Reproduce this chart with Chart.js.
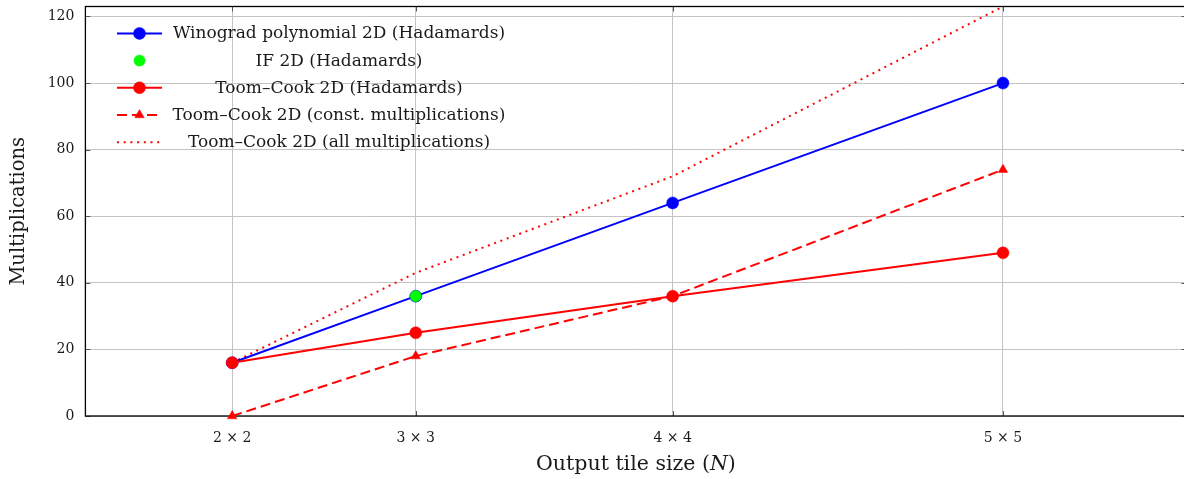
<!DOCTYPE html>
<html>
<head>
<meta charset="utf-8">
<script src="https://cdn.jsdelivr.net/npm/chart.js@4.4.0/dist/chart.umd.min.js"></script>
<style>
  html, body { margin: 0; padding: 0; background: #fff; overflow: hidden; }
  /* a little wider than the window: the right frame edge falls just outside, as in the original */
  #wrap { width: 1193px; height: 479px; position: relative; }
</style>
</head>
<body>
<div id="wrap"><canvas id="chart"></canvas></div>
<script>
'use strict';

// ===== Data =====
const tileLabels = ['2 × 2', '3 × 3', '4 × 4', '5 × 5'];
const tileArea   = [4, 9, 16, 25];   // x position = N²
const winograd   = [16, 36, 64, 100];
const ifArea     = [9];
const ifValues   = [36];
const toomHad    = [16, 25, 36, 49];
const toomConst  = [0, 18, 36, 74];
const toomAll    = [16, 43, 72, 123];
const yTicks     = [0, 20, 40, 60, 80, 100, 120];

const seriesNames = [
  'Winograd polynomial 2D (Hadamards)',
  'IF 2D (Hadamards)',
  'Toom–Cook 2D (Hadamards)',
  'Toom–Cook 2D (const. multiplications)',
  'Toom–Cook 2D (all multiplications)'
];

const FONT = "'DejaVu Serif', serif";
const ink   = '#1a1a1a';
const blue  = '#0000ff';
const red   = '#ff0000';
const green = '#00ff00';

const pts = (xs, ys) => xs.map((x, i) => ({ x: x, y: ys[i] }));

// ===== Frame, inner ticks, legend and axis titles =====
const decorPlugin = {
  id: 'decor',
  beforeDatasetsDraw(chart) {
    const { ctx, chartArea: a, scales } = chart;
    ctx.save();
    ctx.strokeStyle = '#555';
    ctx.lineWidth = 1;
    ctx.beginPath();
    scales.y.ticks.forEach(t => {
      const y = Math.round(scales.y.getPixelForValue(t.value)) + 0.5;
      ctx.moveTo(a.left, y); ctx.lineTo(a.left + 5, y);
      ctx.moveTo(a.right - 5, y); ctx.lineTo(a.right, y);
    });
    scales.x.ticks.forEach(t => {
      const x = Math.round(scales.x.getPixelForValue(t.value)) + 0.5;
      ctx.moveTo(x, a.bottom); ctx.lineTo(x, a.bottom - 5);
      ctx.moveTo(x, a.top); ctx.lineTo(x, a.top + 5);
    });
    ctx.stroke();
    ctx.strokeStyle = '#000';
    ctx.lineWidth = 1.3;
    ctx.strokeRect(a.left, a.top, a.right - a.left, a.bottom - a.top);
    ctx.restore();
  },
  afterDraw(chart) {
    const { ctx, chartArea: a } = chart;
    ctx.save();

    // legend
    const sx0 = a.left + 31.6, sx1 = a.left + 76.6, sxm = (sx0 + sx1) / 2;
    const tx = a.left + 253.6;
    chart.data.datasets.forEach((ds, i) => {
      const y = a.top + 26.9 + i * 27.2;
      if (ds.showLine) {
        ctx.save();
        ctx.strokeStyle = ds.borderColor;
        ctx.lineWidth = ds.borderWidth;
        ctx.setLineDash(ds.borderDash || []);
        ctx.beginPath();
        ctx.moveTo(sx0, y); ctx.lineTo(sx1, y);
        ctx.stroke();
        ctx.restore();
      }
      if (ds.pointRadius > 0) {
        ctx.fillStyle = ds.pointBackgroundColor;
        ctx.strokeStyle = ds.pointBorderColor;
        ctx.lineWidth = ds.pointBorderWidth;
        Chart.helpers.drawPoint(ctx, {
          pointStyle: ds.pointStyle, radius: ds.pointRadius,
          borderWidth: ds.pointBorderWidth, rotation: 0
        }, sxm, y);
      }
      ctx.fillStyle = ink;
      ctx.font = '17px ' + FONT;
      ctx.textAlign = 'center';
      ctx.textBaseline = 'middle';
      ctx.fillText(ds.label, tx, y + 0.5);
    });

    // x title with italic N
    ctx.fillStyle = ink;
    ctx.textBaseline = 'middle';
    ctx.textAlign = 'left';
    const f1 = '20.5px ' + FONT, f2 = 'italic 20.5px ' + FONT;
    const p1 = 'Output tile size (', p2 = 'N', p3 = ')';
    ctx.font = f1; const w1 = ctx.measureText(p1).width, w3 = ctx.measureText(p3).width;
    ctx.font = f2; const w2 = ctx.measureText(p2).width;
    let x = (a.left + a.right) / 2 - (w1 + w2 + w3) / 2;
    const ty = 465;
    ctx.font = f1; ctx.fillText(p1, x, ty); x += w1;
    ctx.font = f2; ctx.fillText(p2, x, ty); x += w2;
    ctx.font = f1; ctx.fillText(p3, x, ty);

    // y title
    ctx.translate(19, (a.top + a.bottom) / 2);
    ctx.rotate(-Math.PI / 2);
    ctx.textAlign = 'center';
    ctx.font = '19.5px ' + FONT;
    ctx.fillText('Multiplications', 0, 0);
    ctx.restore();
  }
};

// ===== Chart =====
new Chart(document.getElementById('chart'), {
  type: 'scatter',
  data: {
    datasets: [
      {
        label: seriesNames[0], data: pts(tileArea, winograd), showLine: true,
        borderColor: blue, borderWidth: 2, pointStyle: 'circle', pointRadius: 6,
        pointBackgroundColor: blue, pointBorderColor: blue, pointBorderWidth: 0.5, order: 4
      },
      {
        label: seriesNames[1], data: pts(ifArea, ifValues), showLine: false,
        borderColor: green, pointStyle: 'circle', pointRadius: 5.6,
        pointBackgroundColor: green, pointBorderColor: green, pointBorderWidth: 0.5, order: 1
      },
      {
        label: seriesNames[2], data: pts(tileArea, toomHad), showLine: true,
        borderColor: red, borderWidth: 2, pointStyle: 'circle', pointRadius: 6,
        pointBackgroundColor: red, pointBorderColor: red, pointBorderWidth: 0.5, order: 2
      },
      {
        label: seriesNames[3], data: pts(tileArea, toomConst), showLine: true,
        borderColor: red, borderWidth: 2, borderDash: [10, 5], pointStyle: 'triangle', pointRadius: 5.5,
        pointBackgroundColor: red, pointBorderColor: red, pointBorderWidth: 0.5, order: 3
      },
      {
        label: seriesNames[4], data: pts(tileArea, toomAll), showLine: true,
        borderColor: red, borderWidth: 2, borderDash: [2, 4.7], pointRadius: 0,
        pointBackgroundColor: red, pointBorderColor: red, pointBorderWidth: 0, order: 5
      }
    ]
  },
  options: {
    responsive: true, maintainAspectRatio: false, animation: false,
    clip: false,
    layout: { padding: { top: 6.3, left: 0, right: 0, bottom: 0 } },
    plugins: { legend: { display: false }, tooltip: { enabled: false } },
    scales: {
      x: {
        type: 'linear', min: 0, max: 30,
        afterBuildTicks: s => { s.ticks = tileArea.map(v => ({ value: v })); },
        afterFit: s => { s.height = 63; s.paddingLeft = 0; s.paddingRight = 0; },
        grid: { color: '#c4c4c4', lineWidth: 1, drawTicks: false },
        border: { display: false },
        ticks: {
          padding: 14, color: ink, font: { family: FONT, size: 14 },
          callback: v => tileLabels[tileArea.indexOf(v)]
        }
      },
      y: {
        type: 'linear', min: 0, max: 123,
        afterBuildTicks: s => { s.ticks = yTicks.map(v => ({ value: v })); },
        afterFit: s => { s.width = 85.4; s.paddingTop = 0; s.paddingBottom = 0; },
        grid: { color: '#c4c4c4', lineWidth: 1, drawTicks: false },
        border: { display: false },
        ticks: { padding: 11, color: ink, font: { family: FONT, size: 14 } }
      }
    }
  },
  plugins: [decorPlugin]
});
</script>
</body>
</html>
